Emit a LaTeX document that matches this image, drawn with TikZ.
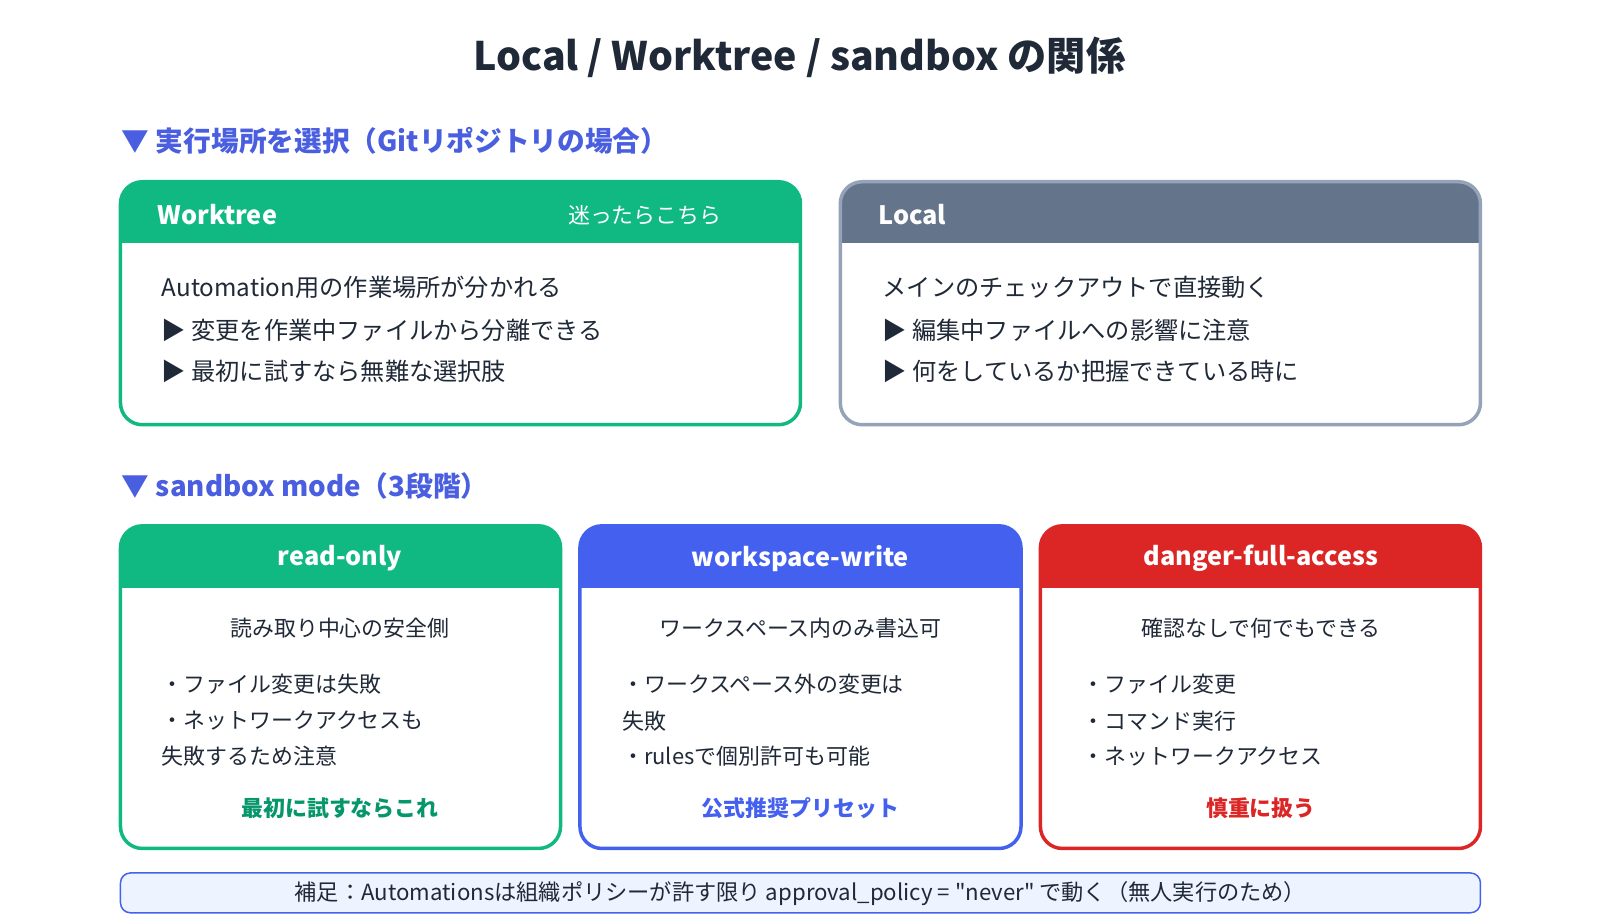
\documentclass[tikz,border=0pt]{standalone}
\usepackage{fontspec}
\setmainfont{Noto Sans CJK JP}[Ligatures=TeXOff]
\usetikzlibrary{positioning}
\definecolor{cgreen}{HTML}{10B981}
\definecolor{cgreendark}{HTML}{059669}
\definecolor{cslate}{HTML}{64748B}
\definecolor{cslateline}{HTML}{94A3B8}
\definecolor{cblue}{HTML}{4361EE}
\definecolor{cred}{HTML}{DC2626}
\definecolor{cnote}{HTML}{EEF4FF}
\definecolor{ctext}{HTML}{1F2937}
\definecolor{csec}{HTML}{4A5EE0}
% panel: x1,y1,x2,y2,header bottom,header colour,border colour
\newcommand{\panelbox}[7]{%
  \begin{scope}%
    \clip[rounded corners=22pt] (#1,#2) rectangle (#3,#4);%
    \fill[white] (#1,#2) rectangle (#3,#4);%
    \fill[#6] (#1,#2) rectangle (#3,#5);%
  \end{scope}%
  \draw[#7,line width=3.5pt,rounded corners=22pt] (#1,#2) rectangle (#3,#4);%
}
\tikzset{
  title/.style={font=\fontsize{39.4}{44}\selectfont\bfseries,text=ctext},
  section/.style={anchor=west,font=\fontsize{27.8}{30}\selectfont\bfseries,text=csec},
  head/.style={font=\fontsize{25.4}{30}\selectfont\bfseries,text=white},
  body/.style={anchor=west,font=\fontsize{22}{26}\selectfont,text=ctext},
  bodybig/.style={anchor=west,font=\fontsize{24.3}{28}\selectfont,text=ctext},
  sub/.style={font=\fontsize{22}{26}\selectfont,text=ctext},
  foot/.style={font=\fontsize{22}{26}\selectfont\bfseries}
}
\begin{document}
\begin{tikzpicture}[x=1.021bp,y=-1.021bp]
\fill[white] (0,0) rectangle (1567.1,901.1);
\pgfresetboundingbox
\path[use as bounding box] (0,0) rectangle (1567.1,901.1);

\node[title] (ttl) at (783,56) {Local / Worktree / sandbox の関係};

%% Section 1
\node[section] (sec1) at (116,138) {▼ 実行場所を選択（Gitリポジトリの場合）};

\panelbox{118}{178}{784}{416}{238}{cgreen}{cgreen}
\node[head,anchor=west] (wtH) at (151,210) {Worktree};
\node[head,anchor=west,font=\fontsize{22}{26}\selectfont] (wtR) at (553,211) {迷ったらこちら};
\node[bodybig] (wt1) at (155,281) {Automation用の作業場所が分かれる};
\node[bodybig] (wt2) at (155,324) {▶ 変更を作業中ファイルから分離できる};
\node[bodybig] (wt3) at (155,364) {▶ 最初に試すなら無難な選択肢};

\panelbox{823}{178}{1450}{416}{238}{cslate}{cslateline}
\node[head,anchor=west] (loH) at (857,210) {Local};
\node[bodybig] (lo1) at (861,281) {メインのチェックアウトで直接動く};
\node[bodybig] (lo2) at (861,324) {▶ 編集中ファイルへの影響に注意};
\node[bodybig] (lo3) at (861,364) {▶ 何をしているか把握できている時に};

%% Section 2
\node[section] (sec2) at (116,476) {▼ sandbox mode（3段階）};

\panelbox{118}{515}{549}{831}{576}{cgreen}{cgreen}
\node[head] (roH) at (333,547) {read-only};
\node[sub] (roS) at (333,615) {読み取り中心の安全側};
\node[body] (ro1) at (155,670) {・ファイル変更は失敗};
\node[body] (ro2) at (155,706) {・ネットワークアクセスも};
\node[body] (ro3) at (155,741) {失敗するため注意};
\node[foot,text=cgreendark] (roF) at (333,792) {最初に試すならこれ};

\panelbox{568}{515}{1000}{831}{576}{cblue}{cblue}
\node[head] (wwH) at (784,547) {workspace-write};
\node[sub] (wwS) at (784,615) {ワークスペース内のみ書込可};
\node[body] (ww1) at (606,670) {・ワークスペース外の変更は};
\node[body] (ww2) at (606,706) {失敗};
\node[body] (ww3) at (606,741) {・rulesで個別許可も可能};
\node[foot,text=cblue] (wwF) at (784,792) {公式推奨プリセット};

\panelbox{1019}{515}{1450}{831}{576}{cred}{cred}
\node[head] (dfH) at (1235,547) {danger-full-access};
\node[sub] (dfS) at (1235,615) {確認なしで何でもできる};
\node[body] (df1) at (1057,670) {・ファイル変更};
\node[body] (df2) at (1057,706) {・コマンド実行};
\node[body] (df3) at (1057,741) {・ネットワークアクセス};
\node[foot,text=cred] (dfF) at (1235,792) {慎重に扱う};

%% Note
\draw[cblue,fill=cnote,line width=1.5pt,rounded corners=10pt] (118,855) rectangle (1450,894);
\node[font=\fontsize{22.3}{24}\selectfont,text=ctext] (note) at (784,875)
  {補足：Automationsは組織ポリシーが許す限り approval\_policy = "never" で動く（無人実行のため）};
\end{tikzpicture}
\end{document}
